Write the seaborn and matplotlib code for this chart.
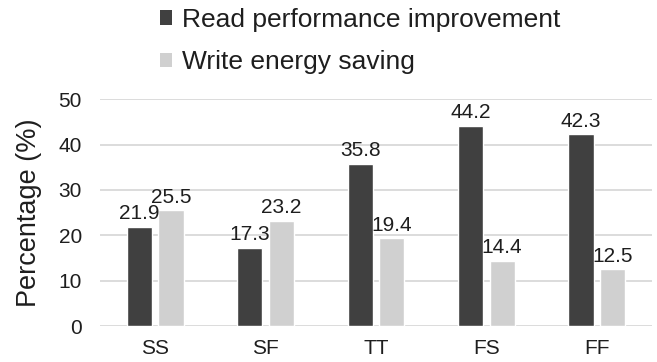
import matplotlib
matplotlib.use("Agg")
import matplotlib.pyplot as plt
from matplotlib.patches import Patch
import seaborn as sns
import pandas as pd

categories = ["SS", "SF", "TT", "FS", "FF"]
read_perf = [21.9, 17.3, 35.8, 44.2, 42.3]
write_energy = [25.5, 23.2, 19.4, 14.4, 12.5]
series_names = ["Read performance improvement", "Write energy saving"]
yticks = [0, 10, 20, 30, 40, 50]

df = pd.DataFrame({
    "cat": categories * 2,
    "val": read_perf + write_energy,
    "series": [series_names[0]] * len(categories) + [series_names[1]] * len(categories),
})

sns.set_theme(style="white")
plt.rcParams["font.family"] = ["Liberation Sans", "DejaVu Sans"]
text_color = "#1e1e1e"

fig = plt.figure(figsize=(6.57, 3.62), dpi=100)
ax = fig.add_axes([0.1522, 0.0994, 0.8402, 0.6263])

palette = {series_names[0]: "#404040", series_names[1]: "#d0d0d0"}
sns.barplot(data=df, x="cat", y="val", hue="series", palette=palette,
            width=0.57, gap=0.2, ax=ax, legend=False, saturation=1)

for cont in ax.containers:
    ax.bar_label(cont, fmt="%.1f", padding=2.5, fontsize=15, color=text_color)

ax.set_ylim(0, 50)
ax.set_yticks(yticks)
ax.set_xlim(-0.5, len(categories) - 0.5)
ax.yaxis.grid(True, color="#d9d9d9", linewidth=1.3)
ax.set_axisbelow(True)
for s in ax.spines.values():
    s.set_visible(False)
ax.tick_params(axis="y", length=0, labelsize=15, colors=text_color, pad=13)
ax.tick_params(axis="x", length=0, labelsize=15, colors=text_color, pad=9)
ax.set_xlabel("")
ax.set_ylabel("Percentage (%)", fontsize=19.5, color=text_color, labelpad=12)

handles = [Patch(facecolor=palette[n], edgecolor="none") for n in series_names]
fig.legend(handles, series_names, loc="upper left", bbox_to_anchor=(160 / 657, 0.978),
           frameon=False, fontsize=19, handlelength=0.46, handleheight=0.46,
           handletextpad=0.38, labelspacing=0.7, borderpad=0, borderaxespad=0,
           labelcolor=text_color)

fig.savefig("out.png", dpi=100)
